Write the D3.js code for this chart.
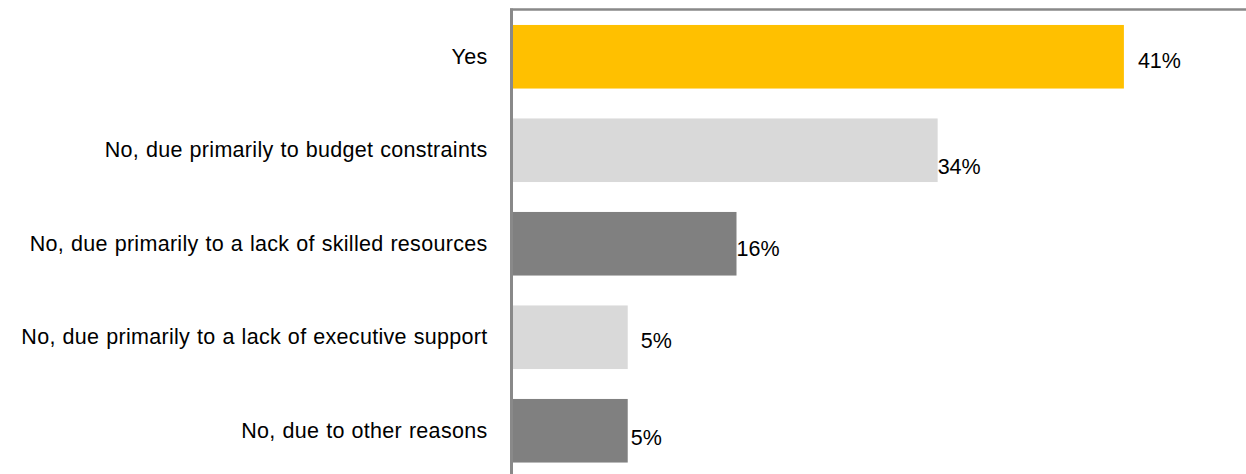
<!DOCTYPE html>
<html>
<head>
<meta charset="utf-8">
<script src="https://cdn.jsdelivr.net/npm/d3@7"></script>
<style>
  body { margin: 0; background: #fff; }
  svg text { font-family: "Liberation Sans", Arial, sans-serif; font-size: 21.5px; fill: #000; }
  .tick text { letter-spacing: 0.3px; word-spacing: 0.6px; }
</style>
</head>
<body>
<svg id="chart" width="1246" height="474"></svg>
<script>
// ANSWERS

var categories = [
    "Yes",
    "No, due primarily to budget constraints",
    "No, due primarily to a lack of skilled resources",
    "No, due primarily to a lack of executive support",
    "No, due to other reasons"
];

// printed percentages
var shares = [41, 34, 16, 5, 5];

// bar lengths as drawn in the picture (same % units)
var barLengths = [41, 28.5, 15, 7.7, 7.7];

var labels = ["41%", "34%", "16%", "5%", "5%"];

var colors = ["#ffc000", "#d9d9d9", "#808080", "#d9d9d9", "#808080"];

// label nudges, the labels sit a bit off in the original
var nudge = [[14, 4], [0, 16], [0, 5], [13, 3], [3, 7]];

// DRAW

var svg = d3.select("#chart");
var x0 = 513;

var x = d3.scaleLinear()
    .domain([0, 50])
    .range([x0, x0 + 745]);

var y = d3.scaleBand()
    .domain(categories)
    .range([10, 477.5])
    .paddingInner(0.32)
    .paddingOuter(0.16);

var rows = categories.map(function(c, i) {
    return { cat: c, len: barLengths[i], share: shares[i], label: labels[i], color: colors[i], nudge: nudge[i] };
});

svg.selectAll("rect.bar")
    .data(rows)
  .enter().append("rect")
    .attr("class", "bar")
    .attr("x", x(0))
    .attr("y", function(d) { return y(d.cat); })
    .attr("width", function(d) { return x(d.len) - x(0); })
    .attr("height", y.bandwidth())
    .attr("fill", function(d) { return d.color; });

svg.selectAll("text.val")
    .data(rows)
  .enter().append("text")
    .attr("class", "val")
    .attr("x", function(d) { return x(d.len) + d.nudge[0]; })
    .attr("y", function(d) { return y(d.cat) + y.bandwidth() / 2 + d.nudge[1]; })
    .attr("dy", "0.36em")
    .text(function(d) { return d.label; });

// top border
svg.append("line")
    .attr("x1", 510).attr("x2", 1246)
    .attr("y1", 9.5).attr("y2", 9.5)
    .attr("stroke", "#898989")
    .attr("stroke-width", 2.5);

// category axis
var yAxis = d3.axisLeft(y)
    .tickSize(0)
    .tickPadding(24);

var g = svg.append("g")
    .attr("transform", "translate(511.5,0)")
    .call(yAxis);

g.select(".domain")
    .attr("stroke", "#898989")
    .attr("stroke-width", 3)
    .attr("d", "M0,8.5V474");

g.selectAll(".tick text")
    .attr("font-family", null)
    .attr("font-size", null)
    .attr("fill", "#000");
</script>
</body>
</html>
